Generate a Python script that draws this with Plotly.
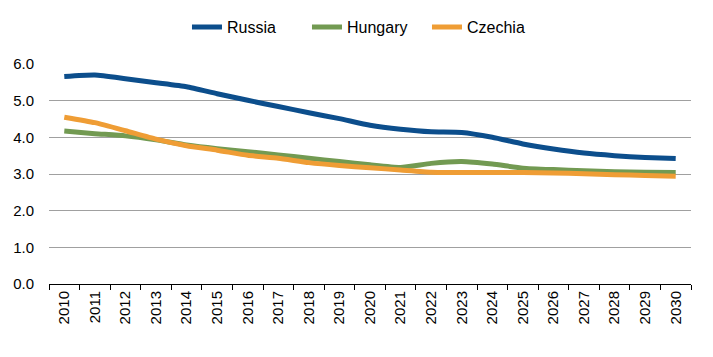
import plotly.graph_objects as go

years = [str(y) for y in range(2010, 2031)]
russia = [5.66, 5.70, 5.60, 5.49, 5.38, 5.19, 5.01, 4.84, 4.67, 4.51, 4.33, 4.22, 4.15, 4.13,
          4.00, 3.82, 3.68, 3.57, 3.50, 3.45, 3.42]
hungary = [4.17, 4.10, 4.04, 3.93, 3.79, 3.69, 3.61, 3.52, 3.43, 3.34, 3.25, 3.18, 3.29, 3.34,
           3.27, 3.16, 3.12, 3.09, 3.06, 3.05, 3.04]
czechia = [4.55, 4.40, 4.18, 3.95, 3.77, 3.65, 3.51, 3.43, 3.31, 3.23, 3.17, 3.11, 3.05, 3.04,
           3.04, 3.04, 3.03, 3.01, 2.98, 2.96, 2.94]

series = [("Russia", russia, "#0C4E8C"), ("Hungary", hungary, "#729A52"), ("Czechia", czechia, "#EF9D35")]

fig = go.Figure()
for name, vals, col in series:
    fig.add_trace(go.Scatter(x=years, y=vals, name=name, mode="lines",
                             line=dict(color=col, width=5, shape="spline", smoothing=0.5)))

fig.update_layout(
    width=713, height=357,
    margin=dict(l=49, r=22, t=64, b=72.5, autoexpand=False),
    plot_bgcolor="white", paper_bgcolor="white",
    font=dict(family="Liberation Sans, Arial, sans-serif", size=15, color="#000000"),
    showlegend=True,
    legend=dict(orientation="h", xref="container", yref="container",
                x=0.5147, xanchor="center", y=0.924, yanchor="middle",
                font=dict(size=16), entrywidth=75, tracegroupgap=0),
    xaxis=dict(type="category", range=[-0.5, len(years) - 0.5], automargin=False,
               showline=True, linecolor="#000000", linewidth=1,
               ticks="outside", tickson="boundaries", ticklen=5, tickcolor="#000000",
               tickangle=-90, showgrid=False, tickfont=dict(size=15)),
    yaxis=dict(range=[0, 6], dtick=1, tickformat=".1f", showgrid=True, automargin=False,
               gridcolor="#A0A0A0", gridwidth=1, zeroline=False, showline=False,
               tickfont=dict(size=15), ticks="", ticklabelstandoff=14),
)

fig.write_html("out.html", config={"displayModeBar": False},
               post_script="document.body.style.margin='0';")
